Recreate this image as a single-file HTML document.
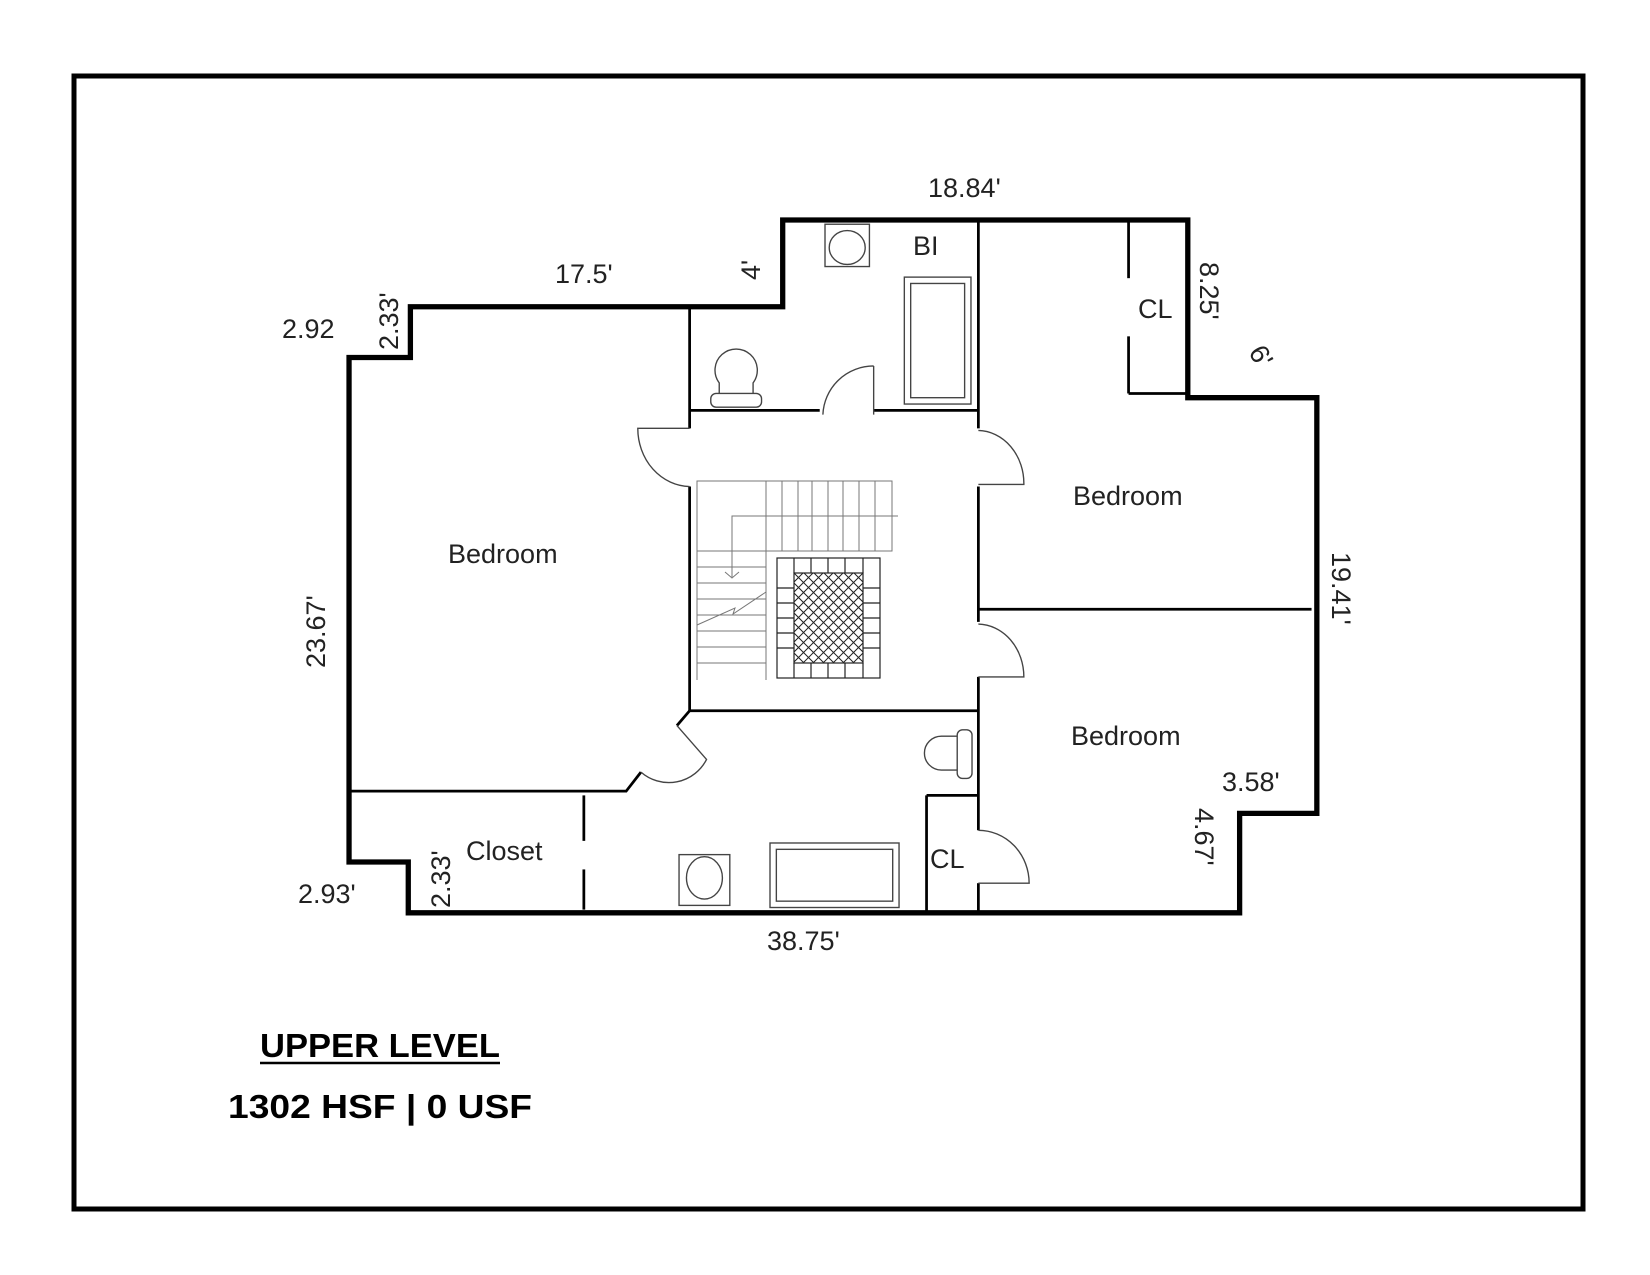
<!DOCTYPE html>
<html><head><meta charset="utf-8"><style>
html,body{margin:0;padding:0;background:#fff}
svg{display:block}
.h{font-family:"Liberation Sans",sans-serif;font-size:27px;fill:#222;font-weight:normal}
</style></head><body>
<svg width="1650" height="1275" viewBox="0 0 1650 1275" xmlns="http://www.w3.org/2000/svg">
<rect x="74" y="76" width="1509" height="1133" fill="none" stroke="#000" stroke-width="5"/>
<g transform="scale(1.0577)">
<polygon points="388,290 740,290 740,208 1123,208 1123,376 1245,376 1245,769 1172,769 1172,863 386,863 386,815 330,815 330,338 388,338" fill="none" stroke="#000" stroke-width="5"/>
<g stroke="#000" stroke-width="2.6" fill="none">
<line x1="652" y1="290" x2="652" y2="405"/><line x1="652" y1="460" x2="652" y2="672"/>
<line x1="652" y1="388" x2="775" y2="388"/><line x1="826" y1="388" x2="925" y2="388"/>
<line x1="925" y1="208" x2="925" y2="405"/><line x1="925" y1="460" x2="925" y2="588"/>
<line x1="925" y1="640" x2="925" y2="785"/><line x1="925" y1="835" x2="925" y2="863"/>
<line x1="925" y1="576" x2="1240" y2="576"/>
<line x1="652" y1="672" x2="925" y2="672"/>
<polyline points="652,672 640,686"/>
<polyline points="330,748 592,748 606,730"/>
<line x1="1067" y1="208" x2="1067" y2="263"/><line x1="1067" y1="318" x2="1067" y2="372"/>
<line x1="1067" y1="372" x2="1123" y2="372"/>
<line x1="876" y1="752" x2="876" y2="863"/><line x1="876" y1="752" x2="925" y2="752"/>
<line x1="552" y1="752" x2="552" y2="795"/><line x1="552" y1="822" x2="552" y2="860"/>
</g>
<g stroke="#444" stroke-width="1.3" fill="none">
<path d="M652,405 L603,405 A50,55 0 0 0 652,460"/>
<path d="M925,407 A44,50 0 0 1 968,458 L925,458"/>
<path d="M925,590 A44,50 0 0 1 968,640 L925,640"/>
<path d="M925,785 A48,50 0 0 1 973,835 L925,835"/>
<path d="M826,346 L826,392 M778,392 A48,48 0 0 1 826,346"/>
<path d="M640,686 L668,718 A40,40 0 0 1 606,730"/>
<rect x="780" y="212" width="42" height="40"/><ellipse cx="801" cy="234" rx="17" ry="16"/>
<rect x="855" y="262" width="63" height="120"/><rect x="861" y="268" width="51" height="108"/>
<path d="M680,372 L680,362 A20,20 0 1 1 712,362 L712,372"/><rect x="672" y="372" width="48" height="13" rx="5"/>
<rect x="642" y="808" width="48" height="48"/><ellipse cx="666" cy="830" rx="17" ry="20"/>
<rect x="728" y="797" width="122" height="61"/><rect x="734" y="803" width="110" height="49"/>
<rect x="905" y="690" width="14" height="46" rx="5"/><path d="M905,696 L890,696 A16,16 0 0 0 890,728 L905,728"/>
</g>
</g>
<g stroke="#777" stroke-width="1" fill="none">
<rect x="697" y="481" width="195" height="70"/>
<line x1="766" y1="481" x2="766" y2="680"/><line x1="782" y1="481" x2="782" y2="551"/><line x1="798" y1="481" x2="798" y2="551"/><line x1="812" y1="481" x2="812" y2="551"/><line x1="828" y1="481" x2="828" y2="551"/><line x1="843" y1="481" x2="843" y2="551"/><line x1="859" y1="481" x2="859" y2="551"/><line x1="875" y1="481" x2="875" y2="551"/>
<line x1="697" y1="551" x2="697" y2="680"/>
<line x1="697" y1="567" x2="766" y2="567"/><line x1="697" y1="583" x2="766" y2="583"/><line x1="697" y1="599" x2="766" y2="599"/><line x1="697" y1="615" x2="766" y2="615"/><line x1="697" y1="631" x2="766" y2="631"/><line x1="697" y1="647" x2="766" y2="647"/><line x1="697" y1="663" x2="766" y2="663"/>
<polyline points="898,516 732,516 732,577"/><polyline points="725,572 732,578 739,572"/>
<polyline points="697,625 735,608 733,614 766,592"/>
</g>
<g stroke="#222" stroke-width="1.2" fill="none">
<rect x="777" y="558" width="103" height="120"/>
<rect x="794" y="573" width="69" height="90"/>
<line x1="794" y1="573" x2="794" y2="558"/><line x1="811" y1="573" x2="811" y2="558"/><line x1="828" y1="573" x2="828" y2="558"/><line x1="845" y1="573" x2="845" y2="558"/><line x1="863" y1="573" x2="863" y2="558"/>
<line x1="794" y1="663" x2="794" y2="678"/><line x1="811" y1="663" x2="811" y2="678"/><line x1="828" y1="663" x2="828" y2="678"/><line x1="845" y1="663" x2="845" y2="678"/><line x1="863" y1="663" x2="863" y2="678"/>
<line x1="777" y1="588" x2="794" y2="588"/><line x1="777" y1="603" x2="794" y2="603"/><line x1="777" y1="618" x2="794" y2="618"/><line x1="777" y1="633" x2="794" y2="633"/><line x1="777" y1="648" x2="794" y2="648"/>
<line x1="863" y1="588" x2="880" y2="588"/><line x1="863" y1="603" x2="880" y2="603"/><line x1="863" y1="618" x2="880" y2="618"/><line x1="863" y1="633" x2="880" y2="633"/><line x1="863" y1="648" x2="880" y2="648"/>
</g>
<clipPath id="c"><rect x="794" y="573" width="69" height="90"/></clipPath>
<g clip-path="url(#c)" stroke="#222" stroke-width="1">
<path d="M774,573 l90,90 M784,573 l90,90 M794,573 l90,90 M804,573 l90,90 M814,573 l90,90 M824,573 l90,90 M834,573 l90,90 M844,573 l90,90 M854,573 l90,90 M764,573 l90,90 M754,573 l90,90 M744,573 l90,90 M734,573 l90,90 M724,573 l90,90 M714,573 l90,90"/>
<path d="M883,573 l-90,90 M873,573 l-90,90 M863,573 l-90,90 M853,573 l-90,90 M843,573 l-90,90 M833,573 l-90,90 M823,573 l-90,90 M813,573 l-90,90 M803,573 l-90,90 M893,573 l-90,90 M903,573 l-90,90 M913,573 l-90,90 M923,573 l-90,90 M933,573 l-90,90 M943,573 l-90,90"/>
</g>
<g class="h">
<text x="928" y="197">18.84'</text>
<text x="555" y="283">17.5'</text>
<text x="0" y="0" transform="translate(760,280) rotate(-90)">4'</text>
<text x="913" y="255">BI</text>
<text x="1138" y="318">CL</text>
<text x="0" y="0" transform="translate(1200,262) rotate(90)">8.25'</text>
<text x="0" y="0" transform="translate(1248,352) rotate(60)">6'</text>
<text x="282" y="338">2.92</text>
<text x="0" y="0" transform="translate(398,350) rotate(-90)">2.33'</text>
<text x="448" y="563">Bedroom</text>
<text x="1073" y="505">Bedroom</text>
<text x="1071" y="745">Bedroom</text>
<text x="0" y="0" transform="translate(325,668) rotate(-90)">23.67'</text>
<text x="0" y="0" transform="translate(1332,552) rotate(90)">19.41'</text>
<text x="1222" y="791">3.58'</text>
<text x="0" y="0" transform="translate(1195,808) rotate(90)">4.67'</text>
<text x="466" y="860">Closet</text>
<text x="0" y="0" transform="translate(450,908) rotate(-90)">2.33'</text>
<text x="298" y="903">2.93'</text>
<text x="930" y="868">CL</text>
<text x="767" y="950">38.75'</text>
</g>
<text x="260" y="1057" font-family="Liberation Sans,sans-serif" font-weight="bold" font-size="33" fill="#000" textLength="240" lengthAdjust="spacingAndGlyphs">UPPER LEVEL</text>
<line x1="260" y1="1063" x2="500" y2="1063" stroke="#000" stroke-width="2.5"/>
<text x="228" y="1118" font-family="Liberation Sans,sans-serif" font-weight="bold" font-size="33" fill="#000" textLength="304" lengthAdjust="spacingAndGlyphs">1302 HSF  |  0 USF</text>
</svg>
</body></html>
